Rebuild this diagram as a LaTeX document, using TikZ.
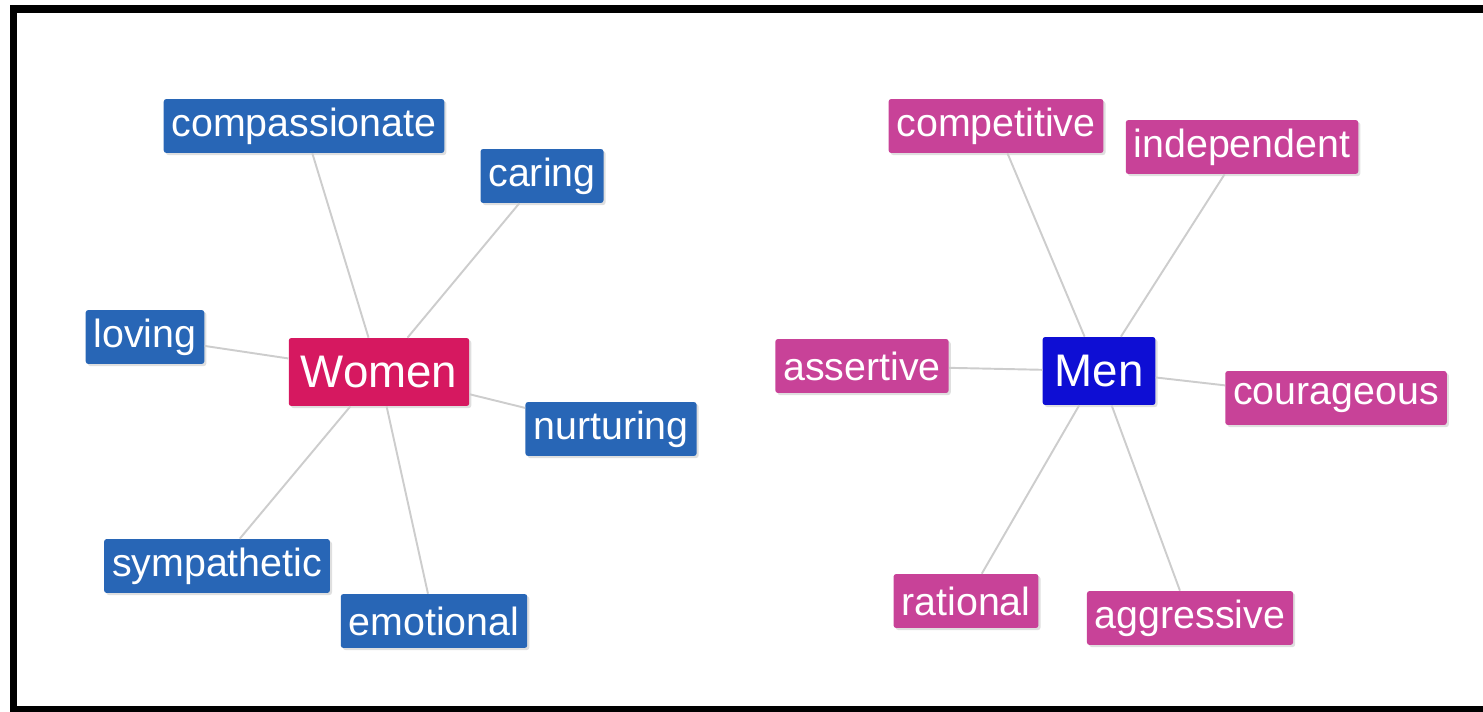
\documentclass[tikz,border=0pt]{standalone}
\usepackage{fontspec}
\setmainfont{Liberation Sans}
\usetikzlibrary{shadows}
\definecolor{womenred}{RGB}{214,24,96}
\definecolor{menblue}{RGB}{14,14,212}
\definecolor{herblue}{RGB}{40,102,182}
\definecolor{hispink}{RGB}{200,66,152}
\definecolor{linkgray}{RGB}{205,205,205}

\begin{document}
\begin{tikzpicture}[x=0.02cm, y=-0.02cm,
  word/.style={rounded corners=1.5pt, text=white, inner ysep=0pt,
    font=\fontsize{22.4}{24}\selectfont, inner xsep=4.5pt, minimum height=30.7pt,
    drop shadow={shadow xshift=1.2pt, shadow yshift=-1.2pt, opacity=0.25}},
  her/.style={word, fill=herblue},
  his/.style={word, fill=hispink},
  hub/.style={word, font=\fontsize{26}{28}\selectfont, inner xsep=6.8pt, minimum height=38.7pt},
  link/.style={draw=linkgray, line width=1.1pt}]
  \useasboundingbox (0,0) rectangle (1483,712);
  % frame, open on the right
  \fill (10,5) rectangle (17,712);
  \fill (10,5) rectangle (1483,13);
  \fill (10,706) rectangle (1483,712);

  \node [hub, fill=womenred] (women) at (379,372) {Women};
  \node [her] (compassionate) at (304,126) {compassionate};
  \node [her] (caring) at (542,176) {caring};
  \node [her] (loving) at (145,337) {loving};
  \node [her] (nurturing) at (611,429) {nurturing};
  \node [her] (sympathetic) at (217,566) {sympathetic};
  \node [her] (emotional) at (434,621) {emotional};

  \node [hub, fill=menblue] (men) at (1099,371) {Men};
  \node [his] (competitive) at (996,126) {competitive};
  \node [his] (independent) at (1242,147) {independent};
  \node [his] (assertive) at (862,366) {assertive};
  \node [his] (courageous) at (1336,398) {courageous};
  \node [his] (rational) at (966,601) {rational};
  \node [his] (aggressive) at (1190,618) {aggressive};

  \foreach \w in {compassionate,caring,loving,nurturing,sympathetic,emotional}
    \draw [link] (women) -- (\w);
  \foreach \w in {competitive,independent,assertive,courageous,rational,aggressive}
    \draw [link] (men) -- (\w);
\end{tikzpicture}
\end{document}
